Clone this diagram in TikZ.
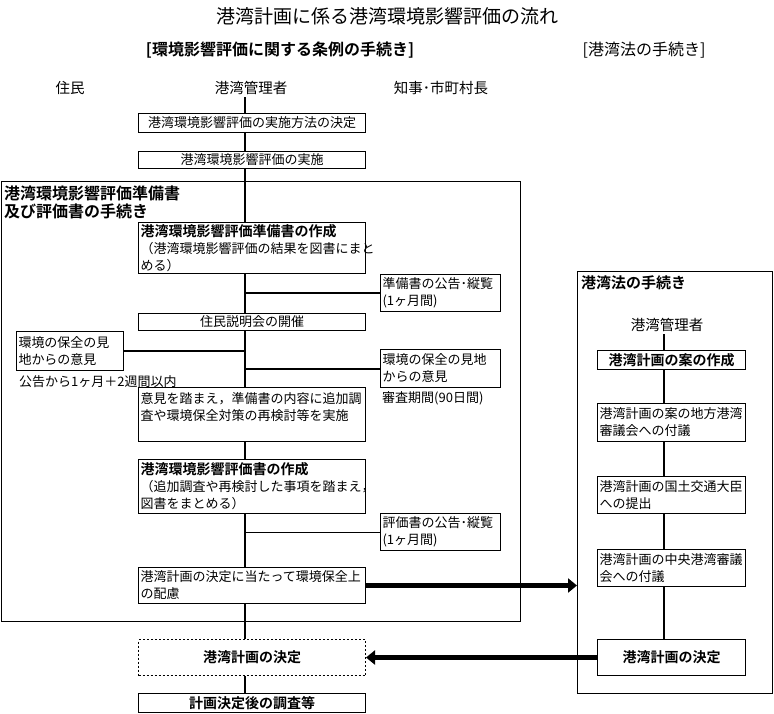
\documentclass[tikz,border=0pt]{standalone}
\usepackage{fontspec}
\setmainfont{Noto Sans CJK JP}[BoldFont={Noto Sans CJK JP Bold}]
\usepackage{tikz}
\usetikzlibrary{arrows.meta,positioning}
\newcommand{\fsz}[1]{\fontsize{#1}{17}\selectfont}
\tikzstyle{procbox} = [rectangle, draw, fill=white, line width=1pt, anchor=north west, inner xsep=2pt, inner ysep=0pt, font=\fsz{13}, align=left]
\tikzstyle{midbox} = [procbox, align=center]
\tikzstyle{framebox} = [rectangle, draw, line width=1pt, anchor=north west, inner sep=0pt]
\tikzstyle{header} = [font=\fsz{14.5}, inner sep=0pt]
\tikzstyle{spine} = [line width=2.5pt]
\tikzstyle{branch} = [line width=2pt]
\tikzstyle{bigarrow} = [line width=5pt, -{Triangle[length=9pt,width=14pt]}]

\begin{document}
\begin{tikzpicture}[x=1pt, y=-1pt]
\useasboundingbox (0,0) rectangle (774,713);

% Titles
\node (title) at (387,16) [font=\fsz{19}] {港湾計画に係る港湾環境影響評価の流れ};
\node (lawenv) at (280,50) [font=\bfseries\fsz{16}] {[環境影響評価に関する条例の手続き]};
\node (lawport) at (644,50) [font=\fsz{16}] {[港湾法の手続き]};

% Actors
\node (resident) at (70,88) [header] {住民};
\node (manager) at (251,88) [header] {港湾管理者};
\node (mayor) at (441,88) [header] {知事･市町村長};
\coordinate (spine) at (245,97);

% Outer frames
\node (envbox) at (0.5,181) [framebox, minimum width=519.5pt, minimum height=440pt] {};
\node (envtitle) at (4,186) [anchor=north west, inner sep=0pt, font=\bfseries\fontsize{16}{18}\selectfont, align=left] {港湾環境影響評価準備書\\及び評価書の手続き};
\node (portbox) at (577,271) [framebox, minimum width=195pt, minimum height=422pt] {};
\node (porttitle) at (581,276) [anchor=north west, inner sep=0pt, font=\bfseries\fsz{15}] {港湾法の手続き};

% Assessment steps
\node (method) at (138,113) [midbox, minimum width=227pt, minimum height=19pt, text width=223pt] {港湾環境影響評価の実施方法の決定};
\node (survey) at (138,151) [midbox, minimum width=227pt, minimum height=17pt, text width=223pt] {港湾環境影響評価の実施};
\node (draft) at (138,222) [procbox, minimum width=227pt, minimum height=51pt, text width=223pt] {{\bfseries\fsz{14}港湾環境影響評価準備書の作成}\\（港湾環境影響評価の結果を図書にまと\\める）};
\node (notice1) at (380,274) [procbox, minimum width=120pt, minimum height=37pt, text width=116pt] {準備書の公告･縦覧\\(1ヶ月間)};
\node (meeting) at (138,313) [midbox, minimum width=227pt, minimum height=17pt, text width=223pt] {住民説明会の開催};
\node (viewres) at (16,331) [procbox, minimum width=107pt, minimum height=39pt, text width=103pt] {環境の保全の見\\地からの意見};
\node (viewgov) at (380,349) [procbox, minimum width=120pt, minimum height=38pt, text width=116pt] {環境の保全の見地\\からの意見};
\node (limitres) at (19,382) [anchor=west, inner sep=0pt, font=\fsz{13}] {公告から1ヶ月＋2週間以内};
\node (limitgov) at (382,398) [anchor=west, inner sep=0pt, font=\fsz{13}] {審査期間(90日間)};
\node (review) at (138,387) [procbox, minimum width=227pt, minimum height=54pt, text width=223pt] {意見を踏まえ，準備書の内容に追加調\\査や環境保全対策の再検討等を実施\\\mbox{}};
\node (final) at (138,459) [procbox, minimum width=227pt, minimum height=54pt, text width=223pt] {{\bfseries\fsz{14}港湾環境影響評価書の作成}\\（追加調査や再検討した事項を踏まえ，\\図書をまとめる）};
\node (notice2) at (380,513) [procbox, minimum width=120pt, minimum height=37pt, text width=116pt] {評価書の公告･縦覧\\(1ヶ月間)};
\node (care) at (138,567) [procbox, minimum width=227pt, minimum height=36pt, text width=223pt] {港湾計画の決定に当たって環境保全上\\の配慮};
\node (decision) at (138,639) [midbox, dash pattern=on 2pt off 2pt, minimum width=227pt, minimum height=36pt, text width=223pt, font=\bfseries\fsz{14}] {港湾計画の決定};
\node (after) at (138,693) [midbox, minimum width=227pt, minimum height=19pt, text width=223pt, font=\bfseries\fsz{14}] {計画決定後の調査等};

% Port law steps
\node (manager2) at (667,325) [header] {港湾管理者};
\coordinate (spine2) at (664,334);
\node (plan) at (597,350) [midbox, minimum width=148pt, minimum height=19pt, text width=144pt, font=\bfseries\fsz{14}] {港湾計画の案の作成};
\node (local) at (597,403) [procbox, minimum width=148pt, minimum height=38pt, text width=144pt] {港湾計画の案の地方港湾\\審議会への付議};
\node (minister) at (597,476) [procbox, minimum width=148pt, minimum height=37pt, text width=144pt] {港湾計画の国土交通大臣\\への提出};
\node (central) at (597,549) [procbox, minimum width=148pt, minimum height=37pt, text width=144pt] {港湾計画の中央港湾審議\\会への付議};
\node (portdec) at (597,639) [midbox, minimum width=148pt, minimum height=36pt, text width=144pt, font=\bfseries\fsz{14}] {港湾計画の決定};

% Main flow
\draw[spine] (spine) -- (method.north -| spine);
\draw[spine] (method.south -| spine) -- (survey.north -| spine);
\draw[spine] (survey.south -| spine) -- (draft.north -| spine);
\draw[spine] (draft.south -| spine) -- (meeting.north -| spine);
\draw[spine] (meeting.south -| spine) -- (review.north -| spine);
\draw[spine] (review.south -| spine) -- (final.north -| spine);
\draw[spine] (final.south -| spine) -- (care.north -| spine);
\draw[spine] (care.south -| spine) -- (decision.north -| spine);
\draw[spine] (decision.south -| spine) -- (after.north -| spine);

% Branches
\draw[branch] (notice1.west -| spine) -- (notice1.west);
\draw[branch] (viewres.east) -- (viewres.east -| spine);
\draw[branch] (viewgov.west -| spine) -- (viewgov.west);
\draw[line width=1pt] (notice2.west -| spine) -- (notice2.west);

% Port law flow
\draw[spine] (spine2) -- (plan.north -| spine2);
\draw[spine] (plan.south -| spine2) -- (local.north -| spine2);
\draw[spine] (local.south -| spine2) -- (minister.north -| spine2);
\draw[spine] (minister.south -| spine2) -- (central.north -| spine2);
\draw[spine] (central.south -| spine2) -- (portdec.north -| spine2);

% Arrows
\draw[bigarrow] (care.east) -- (care.east -| portbox.west);
\draw[bigarrow] (portdec.west) -- (decision.east);
\end{tikzpicture}
\end{document}
